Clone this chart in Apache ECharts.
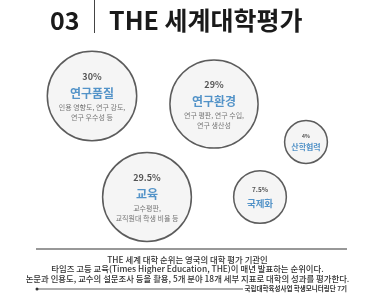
<!DOCTYPE html>
<html>
<head>
<meta charset="utf-8">
<script src="https://cdn.jsdelivr.net/npm/echarts@6/dist/echarts.min.js"></script>
<style>
  html, body { margin: 0; padding: 0; background: #fff; }
  #main { width: 375px; height: 302px; }
</style>
</head>
<body>
<div id="main"></div>
<script>
// THE ranking indicator areas and their weights (%)
const areas = ["연구품질", "연구환경", "산학협력", "교육", "국제화"];
const weights = [30, 29, 4, 29.5, 7.5];
const details = [
  ["인용 영향도, 연구 강도,", "연구 우수성 등"],
  ["연구 평판, 연구 수입,", "연구 생산성"],
  [],
  ["교수평판,", "교직원대 학생 비율 등"],
  []
];
// bubble layout position on a 375 x 302 layout scale
const bubbleX = [92, 214, 306, 147, 260];
const bubbleY = [96, 104, 142, 197, 197];

const noteLines = [
  "THE 세계 대학 순위는 영국의 대학 평가 기관인",
  "타임즈 고등 교육(Times Higher Education, THE)이 매년 발표하는 순위이다.",
  "논문과 인용도, 교수의 설문조사 등을 활용, 5개 분야 18개 세부 지표로 대학의 성과를 평가한다."
];
const credit = "국립대학육성사업 학생모니터링단 7기";

const FONT = "'Noto Sans CJK KR', 'Noto Sans', sans-serif";

function bubbleSize(w) {
  return 2 * (8 + 6.7 * Math.sqrt(w));
}

const data = areas.map(function (name, i) {
  const big = weights[i] >= 10;
  const tiny = weights[i] < 5;
  let txt = (big ? "{p|" : (tiny ? "{ps|" : "{pm|")) + weights[i] + "%}\n" +
    (big ? "{n|" : (tiny ? "{ns|" : "{nm|")) + name + "}";
  details[i].forEach(function (d) { txt += "\n{d|" + d + "}"; });
  return { name: name, value: [bubbleX[i], bubbleY[i], weights[i]], labelText: txt };
});

const chart = echarts.init(document.getElementById("main"), null, { renderer: "canvas" });

const noteStyle = { font: "500 8.4px " + FONT, fill: "#333", align: "center", verticalAlign: "middle" };

chart.setOption({
  backgroundColor: "#ffffff",
  animation: false,
  grid: { left: 0, right: 0, top: 0, bottom: 0 },
  xAxis: { type: "value", min: 0, max: 375, show: false },
  yAxis: { type: "value", min: 0, max: 302, inverse: true, show: false },
  graphic: [
    { type: "text", x: 50, y: 20, style: { text: "03", font: "bold 25px " + FONT, fill: "#1a1a1a", verticalAlign: "middle" } },
    { type: "line", shape: { x1: 94.5, y1: 0, x2: 94.5, y2: 33 }, style: { stroke: "#444", lineWidth: 1 } },
    { type: "text", x: 109, y: 20, style: { text: "THE 세계대학평가", font: "bold 25px " + FONT, fill: "#1a1a1a", verticalAlign: "middle" } },
    { type: "line", shape: { x1: 36, y1: 249, x2: 347, y2: 249 }, style: { stroke: "#333", lineWidth: 1.2 } },
    { type: "text", x: 187.5, y: 259.5, style: Object.assign({ text: noteLines[0] }, noteStyle) },
    { type: "text", x: 187.5, y: 269, style: Object.assign({ text: noteLines[1] }, noteStyle) },
    { type: "text", x: 187.5, y: 278.5, style: Object.assign({ text: noteLines[2] }, noteStyle) },
    { type: "circle", shape: { cx: 37, cy: 289, r: 1.5 }, style: { fill: "#333" } },
    { type: "line", shape: { x1: 37, y1: 289, x2: 243, y2: 289 }, style: { stroke: "#333", lineWidth: 0.8 } },
    { type: "text", x: 347, y: 289, style: { text: credit, font: "bold 6.5px " + FONT, fill: "#333", align: "right", verticalAlign: "middle" } }
  ],
  series: [{
    type: "scatter",
    data: data,
    symbol: "circle",
    symbolSize: function (v) { return bubbleSize(v[2]); },
    itemStyle: {
      color: "#f2f2f2",
      borderColor: "#333333",
      borderWidth: 1.5
    },
    label: {
      show: true,
      position: "inside",
      formatter: function (p) { return p.data.labelText; },
      align: "center",
      fontFamily: FONT,
      rich: {
        p: { fontSize: 9, fontWeight: "bold", color: "#2b2b2b", lineHeight: 14, fontFamily: FONT },
        n: { fontSize: 12, fontWeight: "bold", color: "#2a7bbd", lineHeight: 18, fontFamily: FONT },
        d: { fontSize: 7, color: "#555", lineHeight: 10, fontFamily: FONT },
        pm: { fontSize: 6.5, fontWeight: "bold", color: "#2b2b2b", lineHeight: 12, fontFamily: FONT },
        nm: { fontSize: 9.5, fontWeight: "bold", color: "#2a7bbd", lineHeight: 14, fontFamily: FONT },
        ps: { fontSize: 5, fontWeight: "bold", color: "#2b2b2b", lineHeight: 10, fontFamily: FONT },
        ns: { fontSize: 8, fontWeight: "bold", color: "#2a7bbd", lineHeight: 12, fontFamily: FONT }
      }
    },
    emphasis: { disabled: true }
  }]
});

window.onresize = function () { chart.resize(); };
</script>
</body>
</html>
